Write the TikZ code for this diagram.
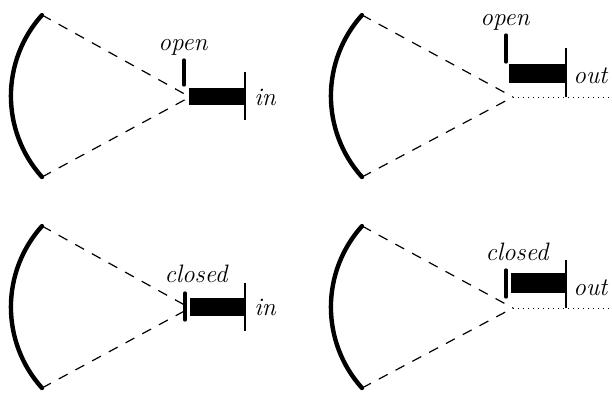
\documentclass[tikz,border=0pt]{standalone}
\usepackage{amsmath}

\tikzset{
  mirror/.style={line width=2.2pt,line cap=round},
  ray/.style={line width=0.6pt,dash pattern=on 5pt off 4.5pt},
  shutter/.style={line width=1.6pt,line cap=round},
  stopline/.style={line width=0.8pt},
  probe/.style={line width=0.5pt,dotted},
  tag/.style={font=\fontsize{12.6}{15}\selectfont\itshape,inner sep=0pt}
}

\begin{document}
\begin{tikzpicture}[x=0.5pt,y=-0.5pt]
\useasboundingbox (0,0) rectangle (612,392);
% top left: open, in
\begin{scope}
  \coordinate (mbot) at (42,177);
  \coordinate (mtop) at (42,15);
  \coordinate (f) at (190,97);
  \draw[mirror] (mbot) arc[start angle=138,end angle=222,radius=121];
  \draw[ray] (mtop) -- (f);
  \draw[ray] (mbot) -- (f);
  \fill (189,88) rectangle (244,105);
  \draw[stopline] (245,72) -- (245,120);
  \draw[shutter] (184,60) -- (184,85);
  \node[tag,anchor=base] (opA) at (183,50) {open};
  \node[tag,anchor=base west] (inA) at (254,105) {in};
\end{scope}
% top right: open, out
\begin{scope}
  \coordinate (mbot) at (362,177);
  \coordinate (mtop) at (362,15);
  \coordinate (f) at (513,97);
  \coordinate (e) at (612,97);
  \draw[mirror] (mbot) arc[start angle=138,end angle=222,radius=121];
  \draw[ray] (mtop) -- (f);
  \draw[ray] (mbot) -- (f);
  \draw[probe] (f) -- (e);
  \fill (509,64) rectangle (565,83);
  \draw[stopline] (566,48) -- (566,97);
  \draw[shutter] (506,35) -- (506,62);
  \node[tag,anchor=base] (opB) at (505,25) {open};
  \node[tag,anchor=base west] (outB) at (573,83) {out};
\end{scope}
% bottom left: closed, in
\begin{scope}[shift={(0,211)}]
  \coordinate (mbot) at (42,177);
  \coordinate (mtop) at (42,15);
  \coordinate (f) at (190,97);
  \draw[mirror] (mbot) arc[start angle=138,end angle=222,radius=121];
  \draw[ray] (mtop) -- (f);
  \draw[ray] (mbot) -- (f);
  \fill (190,87) rectangle (245,105);
  \draw[stopline] (245,72) -- (245,120);
  \draw[shutter] (185,82) -- (185,109);
  \node[tag,anchor=base] (clC) at (196,71) {closed};
  \node[tag,anchor=base west] (inC) at (254,104) {in};
\end{scope}
% bottom right: closed, out
\begin{scope}[shift={(0,211)}]
  \coordinate (mbot) at (362,177);
  \coordinate (mtop) at (362,15);
  \coordinate (f) at (513,97);
  \coordinate (e) at (612,97);
  \draw[mirror] (mbot) arc[start angle=138,end angle=222,radius=121];
  \draw[ray] (mtop) -- (f);
  \draw[ray] (mbot) -- (f);
  \draw[probe] (f) -- (e);
  \fill (511,62) rectangle (566,82);
  \draw[stopline] (566,49) -- (566,97);
  \draw[shutter] (506,59) -- (506,86);
  \node[tag,anchor=base] (clD) at (517,49) {closed};
  \node[tag,anchor=base west] (outD) at (573,84) {out};
\end{scope}
\end{tikzpicture}
\end{document}
